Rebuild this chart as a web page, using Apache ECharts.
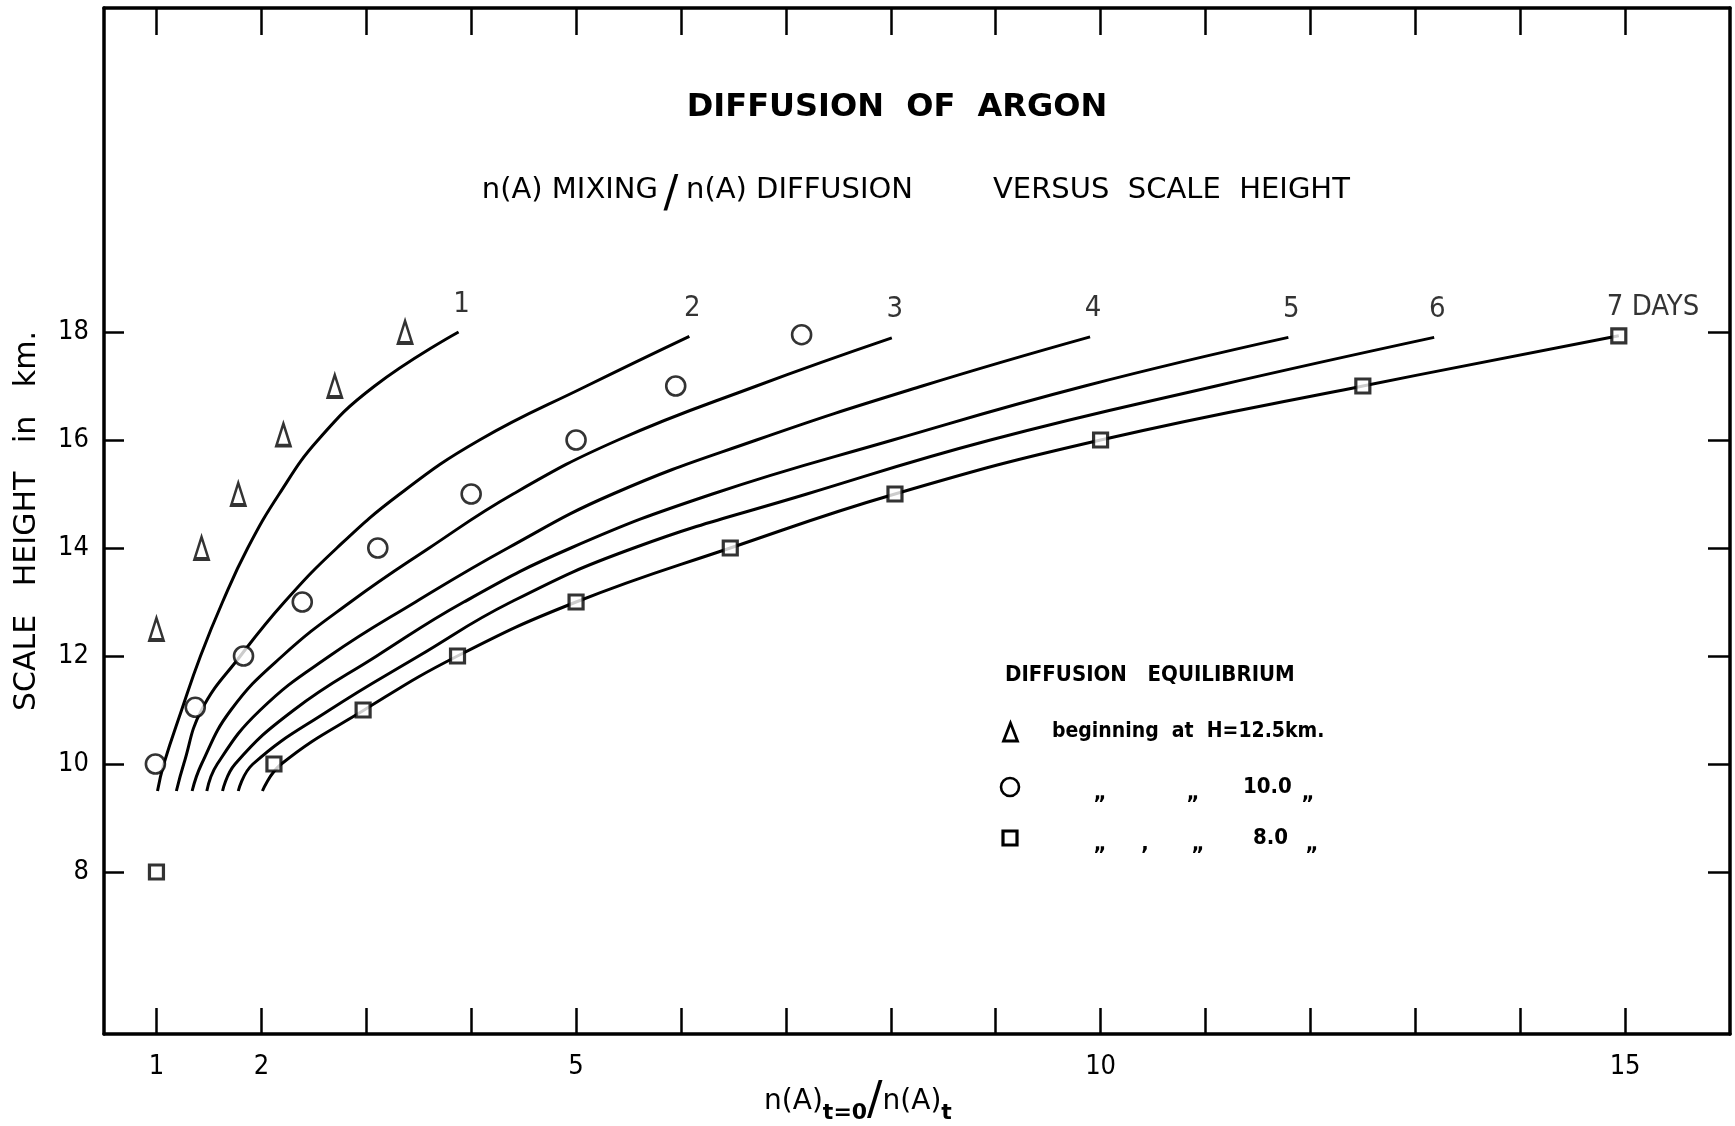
<!DOCTYPE html>
<html>
<head>
<meta charset="utf-8">
<script src="https://cdn.jsdelivr.net/npm/echarts@6/dist/echarts.min.js"></script>
<style>
html,body{margin:0;padding:0;background:#fff;}
#chart{width:1735px;height:1126px;}
</style>
</head>
<body>
<div id="chart"></div>
<script>
// ---- data (x = n(A)t=0 / n(A)t , y = scale height km) ----
const curve1 = [[1.01,9.5],[1.07,10],[1.24,11],[1.42,12],[1.63,13],[1.87,14],[2.17,15],[2.54,16],[3.08,17],[3.88,18.0]];
const curve2 = [[1.19,9.5],[1.26,10],[1.43,11],[1.80,12],[2.22,13],[2.72,14],[3.32,15],[4.08,16],[5.10,17],[6.08,17.92]];
const curve3 = [[1.34,9.5],[1.43,10],[1.71,11],[2.20,12],[2.85,13],[3.60,14],[4.40,15],[5.40,16],[6.72,17],[8.01,17.89]];
const curve4 = [[1.48,9.5],[1.58,10],[1.99,11],[2.65,12],[3.47,13],[4.35,14],[5.35,15],[6.72,16],[8.30,17],[9.90,17.91]];
const curve5 = [[1.63,9.5],[1.75,10],[2.31,11],[3.10,12],[3.93,13],[4.95,14],[6.30,15],[8.02,16],[9.85,17],[11.79,17.9]];
const curve6 = [[1.78,9.5],[1.92,10],[2.65,11],[3.50,12],[4.38,13],[5.55,14],[7.20,15],[8.95,16],[11.10,17],[13.18,17.9]];
const curve7 = [[2.01,9.5],[2.19,10],[2.98,11],[3.87,12],[5.00,13],[6.47,14],[8.04,15],[10.0,16],[12.5,17],[14.94,17.93]];
const curveNames = ['1','2','3','4','5','6','7 DAYS'];

const triangles = [[1.0,12.5],[1.43,14],[1.78,15],[2.21,16.1],[2.70,17],[3.37,18]];
const circles = [[0.99,10],[1.37,11.05],[1.83,12],[2.39,13],[3.11,14],[4.0,15],[5.0,16],[5.95,17],[7.15,17.95]];
const squares = [[1.0,8],[2.12,10],[2.97,11],[3.87,12],[5.0,13],[6.47,14],[8.04,15],[10.0,16],[12.5,17],[14.94,17.93]];

const xTicks = [1,2,3,4,5,6,7,8,9,10,11,12,13,14,15];
const xLabels = [1,2,5,10,15];
const yTicks = [8,10,12,14,16,18];

// ---- chart ----
const FONT = "'DejaVu Sans Condensed', 'DejaVu Sans', sans-serif";
const FONTW = "'DejaVu Sans', sans-serif";
const chart = echarts.init(document.getElementById('chart'), null, {renderer:'canvas'});
const curves = [curve1,curve2,curve3,curve4,curve5,curve6,curve7];

const lineSeries = curves.map((d,i)=>({
  type:'line', name:'t'+(i+1), data:d, smooth:0.45,
  symbol:'none', silent:true, z:2,
  lineStyle:{color:'#000', width:3}
}));

const labelSeries = {
  type:'scatter', name:'curveLabels', silent:true, z:4,
  symbolSize:1, itemStyle:{color:'rgba(0,0,0,0)'},
  data: curves.map((d,i)=>({
    value: d[d.length-1],
    label:{
      show:true, formatter: curveNames[i], position:'top', distance:13,
      align: i===6 ? 'left' : 'center', offset: i===6 ? [-12,0] : [3,0],
      fontFamily:FONT, fontSize:29, color:'#000'
    }
  }))
};

const axisLine = {show:true, onZero:false, lineStyle:{color:'#000', width:3.5}};
const tickStyle = {color:'#000', width:2.5};

const option = {
  backgroundColor:'#fff',
  animation:false,
  grid:{left:104, right:5, top:8, bottom:92, containLabel:false, outerBoundsMode:'none'},
  xAxis:[
    {type:'value', min:0.5, max:16, position:'bottom',
     axisLine:axisLine,
     axisTick:{show:true, inside:true, length:26, customValues:xTicks, lineStyle:tickStyle},
     axisLabel:{show:true, customValues:xLabels, margin:19, fontSize:27, color:'#000', fontFamily:FONT},
     splitLine:{show:false}},
    {type:'value', min:0.5, max:16, position:'top',
     axisLine:axisLine,
     axisTick:{show:true, inside:true, length:27, customValues:xTicks, lineStyle:tickStyle},
     axisLabel:{show:false}, splitLine:{show:false}}
  ],
  yAxis:[
    {type:'value', min:5, max:24, position:'left',
     axisLine:axisLine,
     axisTick:{show:true, inside:true, length:20, customValues:yTicks, lineStyle:tickStyle},
     axisLabel:{show:true, customValues:yTicks, margin:15, fontSize:27, color:'#000', fontFamily:FONT},
     splitLine:{show:false},
     name:'SCALE   HEIGHT   in   km.', nameLocation:'middle', nameGap:62, nameRotate:90,
     nameTextStyle:{fontFamily:FONTW, fontSize:30, color:'#000'}},
    {type:'value', min:5, max:24, position:'right',
     axisLine:axisLine,
     axisTick:{show:true, inside:true, length:22, customValues:yTicks, lineStyle:tickStyle},
     axisLabel:{show:false}, splitLine:{show:false}}
  ],
  series:[
    ...lineSeries,
    {type:'scatter', name:'H=12.5', data:triangles, symbol:'triangle', symbolSize:[14,22], z:3,
     itemStyle:{color:'#fff', borderColor:'#000', borderWidth:3}},
    {type:'scatter', name:'H=10.0', data:circles, symbol:'circle', symbolSize:19, z:3,
     itemStyle:{color:'#fff', borderColor:'#000', borderWidth:2.6}},
    {type:'scatter', name:'H=8.0', data:squares, symbol:'rect', symbolSize:14, z:3,
     itemStyle:{color:'#fff', borderColor:'#000', borderWidth:3.2}},
    labelSeries
  ],
  graphic:[
    // titles
    {type:'text', x:897, y:108, style:{text:'DIFFUSION  OF  ARGON', fontFamily:FONTW, fontWeight:'bold', fontSize:32, fill:'#000', align:'center', verticalAlign:'middle'}},
    {type:'text', x:658, y:190, style:{text:'n(A) MIXING', fontFamily:FONTW, fontSize:29, fill:'#000', align:'right', verticalAlign:'middle'}},
    {type:'text', x:671, y:196, style:{text:'/', fontFamily:FONTW, fontSize:44, fill:'#000', align:'center', verticalAlign:'middle'}},
    {type:'text', x:686, y:190, style:{text:'n(A) DIFFUSION', fontFamily:FONTW, fontSize:29, fill:'#000', align:'left', verticalAlign:'middle'}},
    {type:'text', x:993, y:190, style:{text:'VERSUS  SCALE  HEIGHT', fontFamily:FONTW, fontSize:29, fill:'#000', align:'left', verticalAlign:'middle'}},
    // x axis name
    {type:'text', x:858, y:1102, style:{
      text:'{b|n(A)}{s|t=0}{sl|/}{b|n(A)}{s|t}',
      align:'center', verticalAlign:'middle',
      rich:{
        b:{fontFamily:FONTW, fontSize:28, fill:'#000', verticalAlign:'middle', lineHeight:44},
        s:{fontFamily:FONTW, fontSize:22, fontWeight:'bold', fill:'#000', verticalAlign:'bottom', lineHeight:20},
        sl:{fontFamily:FONTW, fontSize:46, fill:'#000', verticalAlign:'middle', lineHeight:44}
      }}},
    // legend block
    {type:'text', x:1005, y:675, style:{text:'DIFFUSION   EQUILIBRIUM', fontFamily:FONT, fontWeight:'bold', fontSize:22, fill:'#000', verticalAlign:'middle'}},
    {type:'polygon', shape:{points:[[1010.5,723],[1003.5,741],[1017.5,741]]}, style:{fill:'#fff', stroke:'#000', lineWidth:2.8}},
    {type:'text', x:1052, y:732, style:{text:'beginning  at  H=12.5km.', fontFamily:FONT, fontWeight:'bold', fontSize:21, fill:'#000', verticalAlign:'middle'}},
    {type:'circle', shape:{cx:1010, cy:787, r:9}, style:{fill:'#fff', stroke:'#000', lineWidth:2.6}},
    {type:'text', x:1100, y:793, style:{text:'\u201E', fontFamily:FONT, fontWeight:'bold', fontSize:22, fill:'#000', align:'center', verticalAlign:'middle'}},
    {type:'text', x:1193, y:793, style:{text:'\u201E', fontFamily:FONT, fontWeight:'bold', fontSize:22, fill:'#000', align:'center', verticalAlign:'middle'}},
    {type:'text', x:1243, y:787, style:{text:'10.0', fontFamily:FONT, fontWeight:'bold', fontSize:22, fill:'#000', verticalAlign:'middle'}},
    {type:'text', x:1308, y:793, style:{text:'\u201E', fontFamily:FONT, fontWeight:'bold', fontSize:22, fill:'#000', align:'center', verticalAlign:'middle'}},
    {type:'rect', shape:{x:1003, y:831, width:14, height:14}, style:{fill:'#fff', stroke:'#000', lineWidth:3.2}},
    {type:'text', x:1100, y:844, style:{text:'\u201E', fontFamily:FONT, fontWeight:'bold', fontSize:22, fill:'#000', align:'center', verticalAlign:'middle'}},
    {type:'text', x:1145, y:844, style:{text:',', fontFamily:FONT, fontWeight:'bold', fontSize:22, fill:'#000', align:'center', verticalAlign:'middle'}},
    {type:'text', x:1198, y:844, style:{text:'\u201E', fontFamily:FONT, fontWeight:'bold', fontSize:22, fill:'#000', align:'center', verticalAlign:'middle'}},
    {type:'text', x:1253, y:838, style:{text:'8.0', fontFamily:FONT, fontWeight:'bold', fontSize:22, fill:'#000', verticalAlign:'middle'}},
    {type:'text', x:1312, y:844, style:{text:'\u201E', fontFamily:FONT, fontWeight:'bold', fontSize:22, fill:'#000', align:'center', verticalAlign:'middle'}}
  ]
};
chart.setOption(option);
</script>
</body>
</html>
